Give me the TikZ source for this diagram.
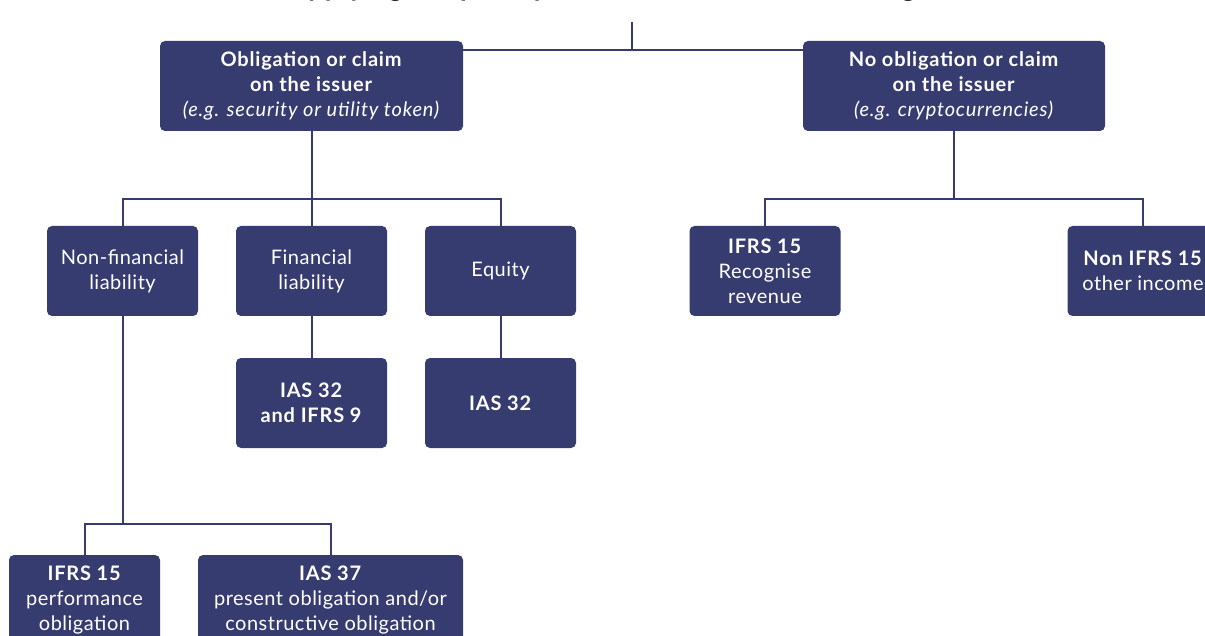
\documentclass[tikz,border=0pt]{standalone}
\usepackage{fontspec}
\setmainfont{Lato}[LetterSpace=2.5, BoldFeatures={LetterSpace=4}, ItalicFeatures={LetterSpace=4}]
\usetikzlibrary{positioning}
\definecolor{navy}{HTML}{373C70}

\begin{document}
\begin{tikzpicture}[x=1pt, y=-1pt,
        box/.style={fill=navy, rounded corners=5pt, text=white, align=center, minimum width=151pt, minimum height=90pt, inner sep=0pt, font=\fontsize{20}{25}\selectfont},
        widebox/.style={box, minimum width=303pt},
        link/.style={draw=navy, line width=2pt}]
                \useasboundingbox (0,0) rectangle (1205,636);
                \node[anchor=base, font=\bfseries\fontsize{27}{30}\selectfont] (title) at (635,-3) {Applying the principles in classification and obligation};
                % top level
                \node[widebox] (claim) at (311.5,86) {\textbf{Obligation or claim}\\\textbf{on the issuer}\\\textit{(e.g. security or utility token)}};
                \node[widebox, minimum width=302pt] (noclaim) at (954,86) {\textbf{No obligation or claim}\\\textbf{on the issuer}\\\textit{(e.g. cryptocurrencies)}};
                % second level
                \node[box] (nonfin) at (122.5,271) {Non-financial\\liability};
                \node[box] (fin) at (311.5,271) {Financial\\liability};
                \node[box] (equity) at (500.5,271) {Equity};
                \node[box] (revenue) at (765,271) {\textbf{IFRS 15}\\Recognise\\revenue};
                \node[box] (other) at (1143,271) {\textbf{Non IFRS 15}\\other income};
                % third level
                \node[box] (finstd) at (311.5,403) {\textbf{IAS 32}\\\textbf{and IFRS 9}};
                \node[box] (eqstd) at (500.5,403) {\textbf{IAS 32}};
                \node[box] (perf) at (84.5,600) {\textbf{IFRS 15}\\performance\\obligation};
                \node[box, minimum width=265pt] (provision) at (330.5,600) {\textbf{IAS 37}\\present obligation and/or\\constructive obligation};
                % connectors
                \coordinate (root) at (632,22);
                \coordinate (rootjoin) at (632,50);
                \draw[link] (root) -- (rootjoin);
                \draw[link] (claim.east |- rootjoin) -- (noclaim.west |- rootjoin);
                \draw[link] (claim.south) -- (fin.north);
                \draw[link] (nonfin.north) -- ++(0,-27) -| (equity.north);
                \draw[link] (noclaim.south) -- ++(0,68);
                \draw[link] (revenue.north) -- ++(0,-27) -| (other.north);
                \draw[link] (fin) -- (finstd);
                \draw[link] (equity) -- (eqstd);
                \draw[link] (nonfin.south) -- ++(0,208);
                \draw[link] (perf.north) -- ++(0,-31) -| (provision.north);
            \end{tikzpicture}
\end{document}
